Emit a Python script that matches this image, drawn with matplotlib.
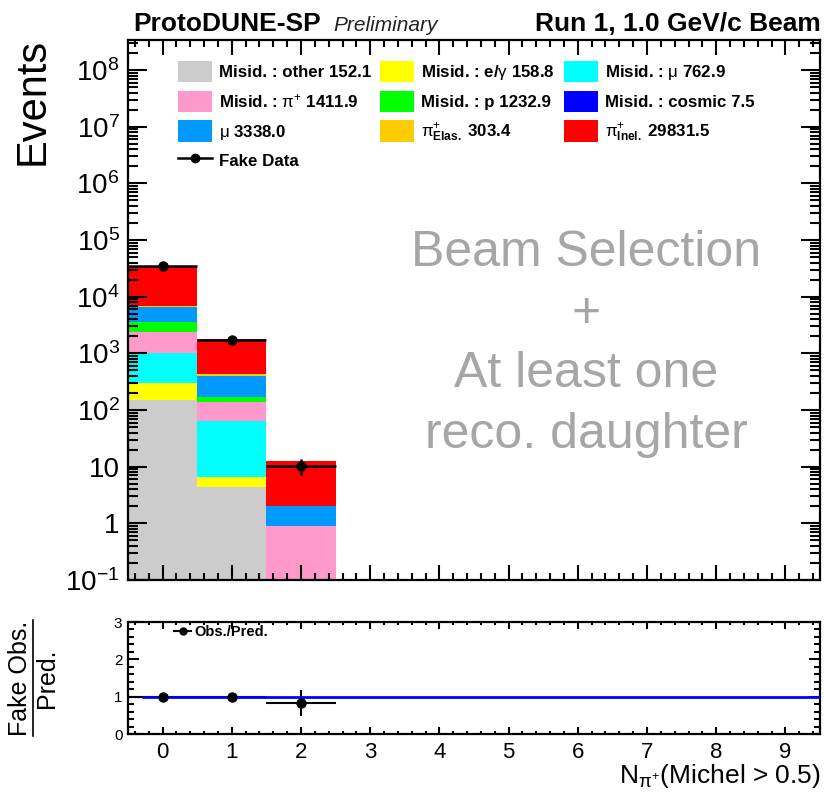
import numpy as np
import matplotlib.pyplot as plt
from matplotlib.ticker import MultipleLocator, LogLocator, FixedLocator, FixedFormatter, NullFormatter
from matplotlib.lines import Line2D

plt.rcParams['font.family'] = ['Liberation Sans', 'DejaVu Sans']
plt.rcParams['mathtext.fontset'] = 'custom'
plt.rcParams['mathtext.rm'] = 'Liberation Sans'
plt.rcParams['mathtext.it'] = 'Liberation Sans:italic'
plt.rcParams['mathtext.bf'] = 'Liberation Sans:bold'

# bins with content (N_pi+ = 0, 1, 2); histogram range -0.5 .. 9.5
centers = [0, 1, 2]

# stacked MC, bottom to top
other   = [147.8, 4.3, 0.0]
egamma  = [156.6, 2.2, 0.0]
mu_mis  = [705.9, 57.0, 0.0]
pi_mis  = [1336.0, 75.0, 0.9]
proton  = [1203.9, 29.0, 0.0]
cosmic  = [7.0, 0.5, 0.0]
muon    = [3106.9, 230.0, 1.1]
pi_elas = [261.4, 42.0, 0.0]
pi_inel = [28500.8, 1320.0, 10.7]

fake_data = [35420.0, 1750.0, 10.4]
fake_err = [188.0, 42.0, 3.2]
ratio_err = [0.01, 0.03, 0.35]

stack = [other, egamma, mu_mis, pi_mis, proton, cosmic, muon, pi_elas, pi_inel]
names = ['Misid. : other', r'Misid. : e/$\mathrm{\gamma}$', r'Misid. : $\mathrm{\mu}$',
         r'Misid. : $\mathrm{\pi}^{+}$', 'Misid. : p', 'Misid. : cosmic',
         r'$\mathrm{\mu}$', r'$\mathrm{\pi}^{+}_{\mathbf{Elas.}}$', r'$\mathrm{\pi}^{+}_{\mathbf{Inel.}}$']
colors = ['#cccccc', '#ffff00', '#00ffff', '#ff99cc', '#00ff00', '#0000ff',
          '#0099ff', '#ffcc00', '#ff0000']

fig = plt.figure(figsize=(8.24, 7.92), dpi=100)
ax = fig.add_axes([128/824, 1-580/792, 692/824, 540/792])
ax2 = fig.add_axes([128/824, 1-734/792, 692/824, 112/792])

bottom = np.zeros(len(centers))
handles = []
for vals, name, c in zip(stack, names, colors):
    vals = np.array(vals)
    b = ax.bar(centers, vals, bottom=bottom, width=1.0, color=c, linewidth=0,
               label=f'{name} {vals.sum():.1f}')
    handles.append(b)
    bottom = bottom + vals
pred = bottom

ax.errorbar(centers, fake_data, yerr=fake_err, xerr=0.5, fmt='o', color='k',
            ms=6.5, elinewidth=1.8, capsize=0, zorder=5)

ax.set_yscale('log')
ax.set_xlim(-0.5, 9.5)
ax.set_ylim(0.1, 3.4e8)

data_h = Line2D([], [], color='k', marker='o', lw=1.8, ms=6)
order = [handles[0], handles[3], handles[6], data_h,
         handles[1], handles[4], handles[7],
         handles[2], handles[5], handles[8]]
labs = [h.get_label() for h in order[:3]] + ['Fake Data'] + \
       [h.get_label() for h in order[4:]]
ax.legend(order, labs, ncol=3, loc='upper left', bbox_to_anchor=(50/692, 1-21/540),
          frameon=False, prop={'weight': 'bold', 'size': 12.2},
          handlelength=2.0, handleheight=1.55, handletextpad=0.4,
          columnspacing=0.55, labelspacing=0.5, borderpad=0, borderaxespad=0)

ax.text(0.662, 0.437, 'Beam Selection\n+\nAt least one\nreco. daughter',
        transform=ax.transAxes, ha='center', va='center', fontsize=36,
        color='#a6a6a6', linespacing=1.4)

# ticks, ROOT style
ax.xaxis.set_major_locator(MultipleLocator(1))
ax.xaxis.set_minor_locator(MultipleLocator(0.2))
ax.xaxis.set_major_formatter(NullFormatter())
ax.yaxis.set_major_locator(FixedLocator([10.0**k for k in range(-1, 9)]))
ax.yaxis.set_minor_locator(LogLocator(base=10, subs=np.arange(2, 10)))
ax.yaxis.set_minor_formatter(NullFormatter())
ylabs = [r'$\mathdefault{10^{-1}}$', '1', '10'] + [r'$\mathdefault{10^{%d}}$' % k for k in range(2, 9)]
ax.yaxis.set_major_formatter(FixedFormatter(ylabs))
ax.tick_params(axis='both', which='both', direction='in', top=True, right=True, width=1.5)
ax.tick_params(axis='x', which='major', length=11)
ax.tick_params(axis='x', which='minor', length=5)
ax.tick_params(axis='y', which='major', length=14, labelsize=20, pad=6)
ax.tick_params(axis='y', which='minor', length=7)
for s in ax.spines.values():
    s.set_linewidth(1.6)

# ratio panel
ratio = np.array(fake_data) / pred
ax2.errorbar(centers, ratio, yerr=ratio_err, xerr=0.5, fmt='none', ecolor='k',
             elinewidth=1.5, capsize=0, zorder=2)
ax2.hlines(1.0, -0.3, 9.5, color='#0000ff', lw=2, zorder=3)
ax2.plot(centers, ratio, 'o', color='k', ms=6.5, zorder=4)
ax2.set_xlim(-0.5, 9.5)
ax2.set_ylim(0, 3)
ax2.xaxis.set_major_locator(MultipleLocator(1))
ax2.xaxis.set_minor_locator(MultipleLocator(0.2))
ax2.yaxis.set_major_locator(MultipleLocator(1))
ax2.yaxis.set_minor_locator(MultipleLocator(0.2))
ax2.tick_params(axis='both', which='both', direction='in', top=True, right=True, width=1.5)
ax2.tick_params(axis='x', which='major', length=5, labelsize=16, pad=6)
ax2.tick_params(axis='x', which='minor', length=2.5)
ax2.tick_params(axis='y', which='major', length=8, labelsize=11, pad=4)
ax2.tick_params(axis='y', which='minor', length=4)
for s in ax2.spines.values():
    s.set_linewidth(1.6)
rh = Line2D([], [], color='k', marker='o', lw=1.5, ms=5)
ax2.legend([rh], ['Obs./Pred.'], loc='upper left', bbox_to_anchor=(46/692, 0.97),
           frameon=False, prop={'weight': 'bold', 'size': 10.5}, handlelength=1.2,
           handletextpad=0.2, borderpad=0, borderaxespad=0)

# axis titles
fig.text(33/824, 1-38/792, 'Events', rotation=90, ha='center', va='top', fontsize=30)
fig.text(20/824, 1-678/792, 'Fake Obs.', rotation=90, ha='center', va='center', fontsize=18)
fig.text(47/824, 1-678/792, 'Pred.', rotation=90, ha='center', va='center', fontsize=18)
fig.add_artist(Line2D([33/824, 33/824], [1-736/792, 1-620/792], color='k', lw=1.2))
fig.text(821/824, 1-790/792, r'N$_{\mathrm{\pi}^{+}}$(Michel > 0.5)', ha='right', va='bottom',
         fontsize=19)

# header
fig.text(133/824, 1-31/792, 'ProtoDUNE-SP', fontsize=19, fontweight='bold', va='baseline')
fig.text(333/824, 1-31/792, 'Preliminary', fontsize=15, style='italic', va='baseline',
         color='#222222')
fig.text(821/824, 1-31/792, 'Run 1, 1.0 GeV/c Beam', fontsize=19, fontweight='bold',
         ha='right', va='baseline')

fig.savefig('out.png', dpi=100)
